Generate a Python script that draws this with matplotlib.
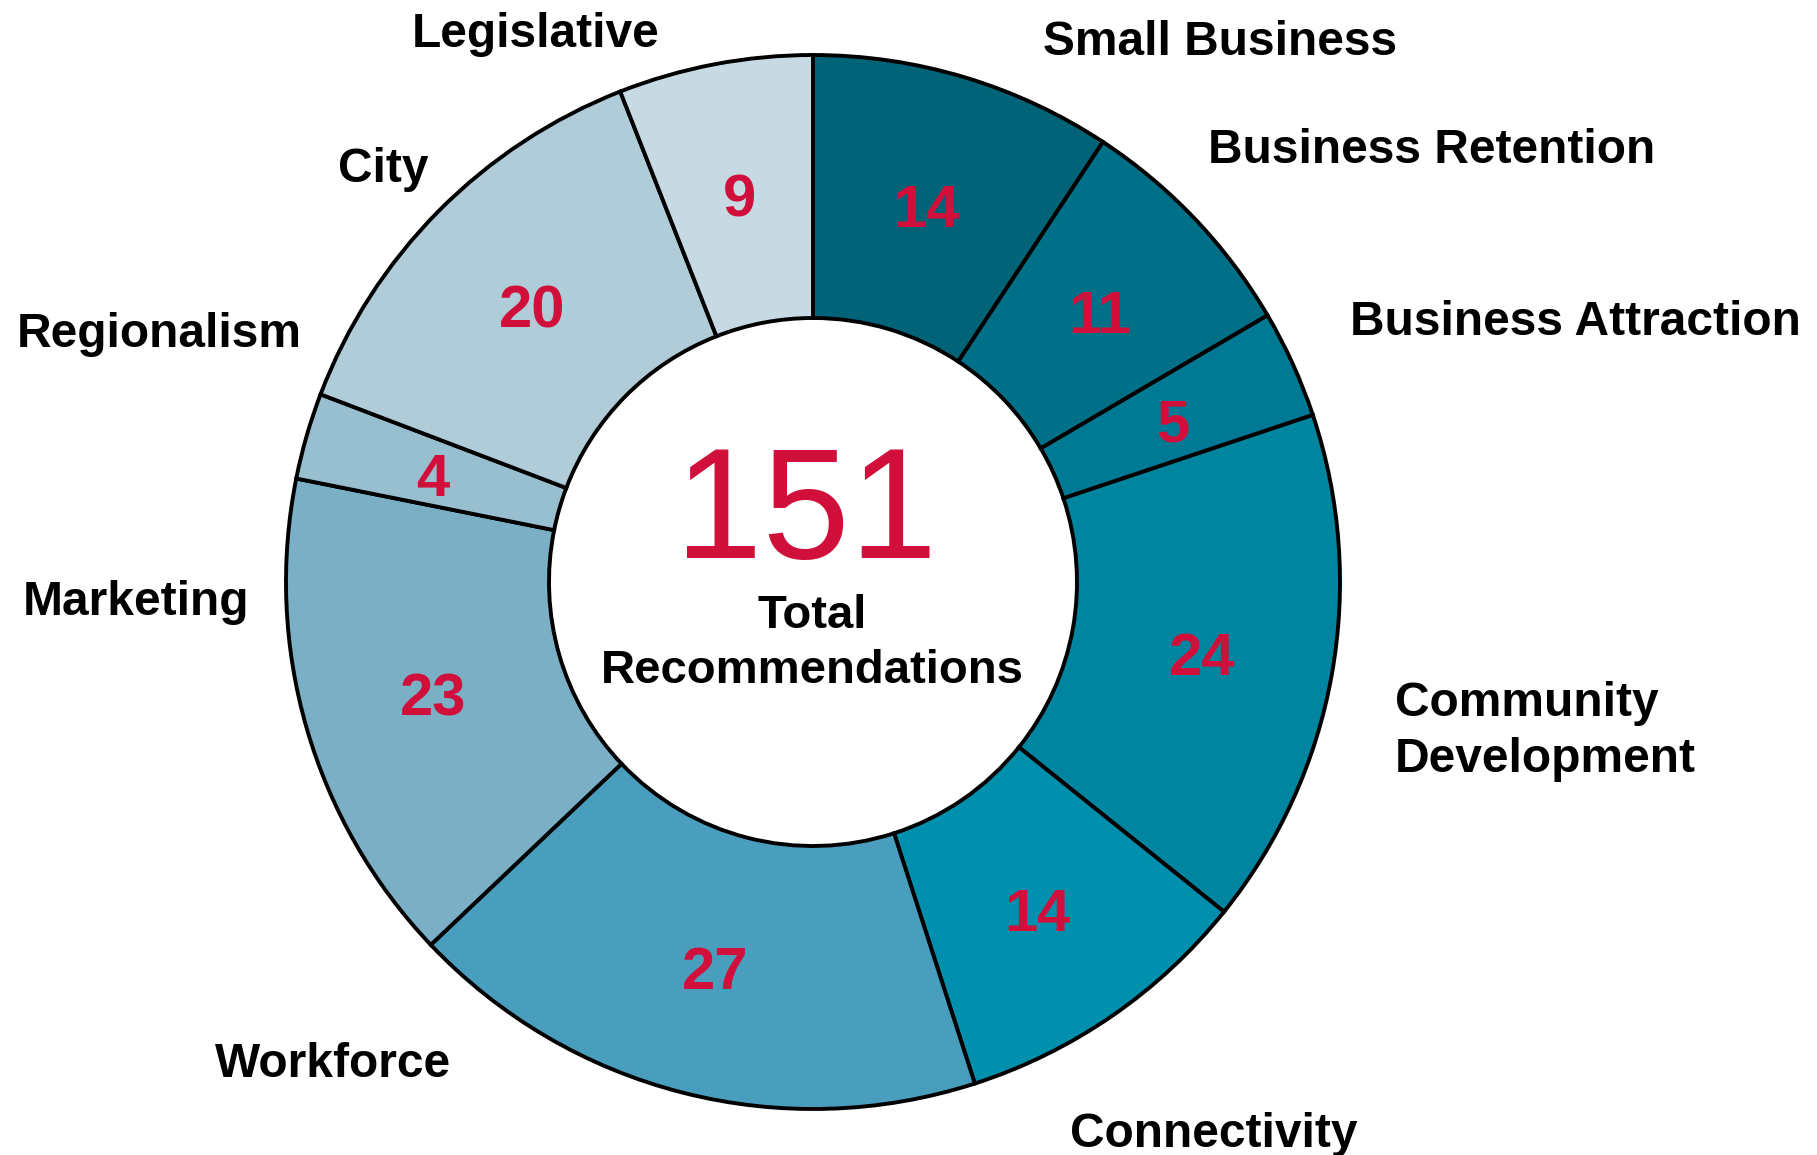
import matplotlib.pyplot as plt

W, H = 1817, 1155

categories = ['Small Business', 'Business Retention', 'Business Attraction',
              'Community\nDevelopment', 'Connectivity', 'Workforce',
              'Marketing', 'Regionalism', 'City', 'Legislative']
counts = [14, 11, 5, 24, 14, 27, 23, 4, 20, 9]
colors = ['#006377', '#006F88', '#007A94', '#0085A1', '#008FAD',
          '#489EBC', '#7AAFC6', '#98BFD0', '#B0CCD8', '#C7DAE4']
total = sum(counts)

# label anchors in pixels (left edge, baseline of last line), from the top-left
label_pos = [(1043, 55), (1208, 163), (1350, 335), (1395, 772), (1070, 1147),
             (215, 1077), (23, 615), (17, 347), (338, 182), (412, 47)]

cx, cy = 813, 582
r_out, r_in = 527, 264

plt.rcParams['font.family'] = ['Liberation Sans', 'DejaVu Sans']

fig = plt.figure(figsize=(W / 100, H / 100), dpi=100)
ax = fig.add_axes([0, 0, 1, 1])

wedges, texts, autotexts = ax.pie(
    counts, colors=colors, startangle=90, counterclock=False,
    radius=r_out, center=(cx, H - cy),
    wedgeprops=dict(width=r_out - r_in, edgecolor='black', linewidth=2.8),
    autopct=lambda p: '%d' % round(p * total / 100),
    pctdistance=(r_out + r_in) / 2 / r_out,
    textprops=dict(color='#D0103A', fontsize=43, fontweight='bold'))
for t in autotexts:
    x, y = t.get_position()
    t.set_position((x, y - 8))
    t.set_va('center')
    t.set_ha('center')

for name, (x, y) in zip(categories, label_pos):
    ax.text(x, H - y, name, ha='left', va='baseline', fontsize=34.5,
            fontweight='bold', color='black', linespacing=1.32)

ax.text(cx - 7, H - 558, str(total), ha='center', va='baseline',
        fontsize=113, color='#D0103A')
ax.text(cx - 1, H - 683, 'Total\nRecommendations', ha='center',
        va='baseline', fontsize=34, fontweight='bold', color='black',
        linespacing=1.32, multialignment='center')

ax.set_xlim(0, W)
ax.set_ylim(0, H)
ax.set_aspect('equal')
ax.axis('off')

fig.savefig('out.png', dpi=100, facecolor='white')
